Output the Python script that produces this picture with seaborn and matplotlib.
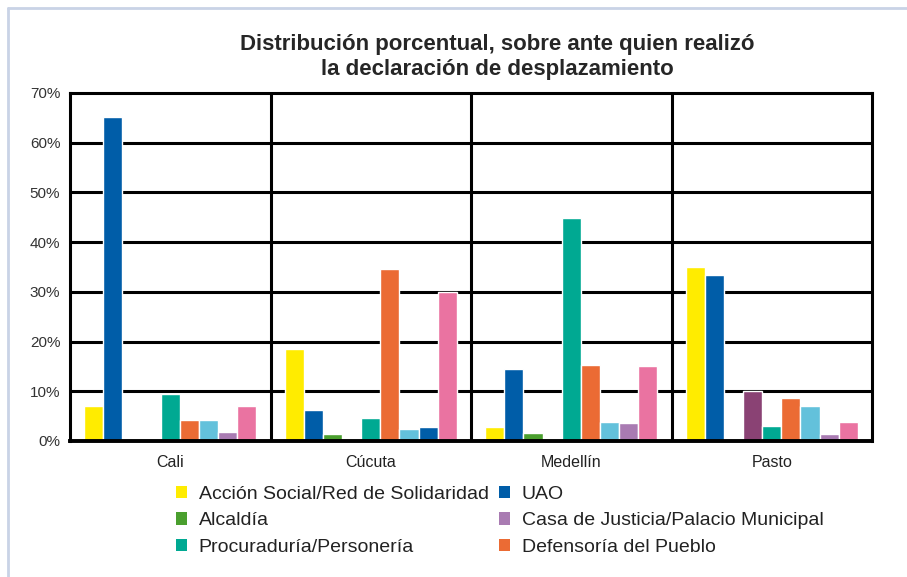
import numpy as np
import pandas as pd
import matplotlib
matplotlib.use("Agg")
import matplotlib.pyplot as plt
from matplotlib.patches import Patch
from matplotlib.lines import Line2D
import seaborn as sns

sns.set_style("white")
plt.rcParams['font.family'] = ['Liberation Sans', 'DejaVu Sans']

# datos (porcentajes)
ciudades = ['Cali', 'Cúcuta', 'Medellín', 'Pasto']
accion_social = [7.0, 18.6, 2.9, 34.9]
uao = [65.1, 6.2, 14.4, 33.4]
alcaldia = [0.0, 1.5, 1.6, 0.0]
otra_1 = [0.0, 0.0, 0.0, 10.0]
procuraduria = [9.4, 4.7, 44.9, 3.1]
defensoria = [4.3, 34.5, 15.2, 8.6]
otra_2 = [4.3, 2.4, 3.9, 7.1]
casa_justicia = [1.9, 2.9, 3.7, 1.5]
otra_3 = [7.0, 30.0, 15.0, 3.9]

series = ['Acción Social/Red de Solidaridad', 'UAO', 'Alcaldía', 'otra_1',
          'Procuraduría/Personería', 'Defensoría del Pueblo', 'otra_2',
          'Casa de Justicia/Palacio Municipal', 'otra_3']
valores = [accion_social, uao, alcaldia, otra_1, procuraduria, defensoria,
           otra_2, casa_justicia, otra_3]
colores = ['#FFEC00', '#005DA8', '#4A9F2E', '#8A4274', '#00A992', '#EB6B34',
           '#63C1DB', '#A97BB2', '#EA73A1']

filas = []
for s, vals in zip(series, valores):
    for c, v in zip(ciudades, vals):
        filas.append({'ciudad': c, 'entidad': s, 'valor': v})
df = pd.DataFrame(filas)

fig = plt.figure(figsize=(9.07, 5.77), dpi=100)
ax = fig.add_axes([70/907, 1-441/577, 802/907, 348/577])

sns.barplot(data=df, x='ciudad', y='valor', hue='entidad', order=ciudades,
            hue_order=series, palette=colores, width=0.86, saturation=1,
            edgecolor='white', linewidth=1, errorbar=None, legend=False, ax=ax)

# en Cucuta la barra de Casa de Justicia aparece en azul
ax.containers[7][1].set_facecolor('#005DA8')

ax.set_ylim(0, 70)
ax.set_xlim(-0.5, 3.5)
ax.set_yticks(np.arange(0, 71, 10))
ax.set_yticklabels([f'{t}%' for t in range(0, 71, 10)], fontsize=11, color='#333333')
for lab in ax.get_yticklabels():
    lab.set_y(lab.get_position()[1])
ax.tick_params(axis='y', length=0, pad=7)
ax.tick_params(axis='x', length=0, pad=10, labelsize=11.5, labelcolor='#222222')
ax.set_xlabel('')
ax.set_ylabel('')

for y in range(10, 70, 10):
    ax.axhline(y, color='black', lw=2.2, zorder=0.5)
for x in [0.5, 1.5, 2.5]:
    ax.axvline(x, color='black', lw=2.2, zorder=0.5)
for side in ['left', 'right', 'top', 'bottom']:
    ax.spines[side].set_visible(True)
    ax.spines[side].set_color('black')
    ax.spines[side].set_linewidth(2.2)
ax.spines['bottom'].set_linewidth(2.8)

fig.text(0.548, 1-57/577, 'Distribución porcentual, sobre ante quien realizó\nla declaración de desplazamiento',
         ha='center', va='center', fontsize=16, fontweight='bold', linespacing=1.3,
         family=['Liberation Sans Narrow', 'Liberation Sans', 'DejaVu Sans'])

# leyenda (solo las seis entidades nombradas)
orden = [0, 2, 4, 1, 7, 5]
handles = [Patch(facecolor=colores[i], edgecolor='none') for i in orden]
labels = [series[i] for i in orden]
fig.legend(handles, labels, loc='upper left', bbox_to_anchor=(158/907, 1-468/577),
           ncol=2, frameon=False, fontsize=14, handlelength=0.6, handleheight=0.6,
           handletextpad=0.6, columnspacing=0.5, labelspacing=0.5,
           labelcolor='#222222')

# marco de la pagina
fig.add_artist(Line2D([8/907, 8/907], [0, 1-8/577], color='#C9D3E6', lw=2))
fig.add_artist(Line2D([8/907, 1], [1-8/577, 1-8/577], color='#C9D3E6', lw=2))

plt.savefig('out.png', dpi=100)
